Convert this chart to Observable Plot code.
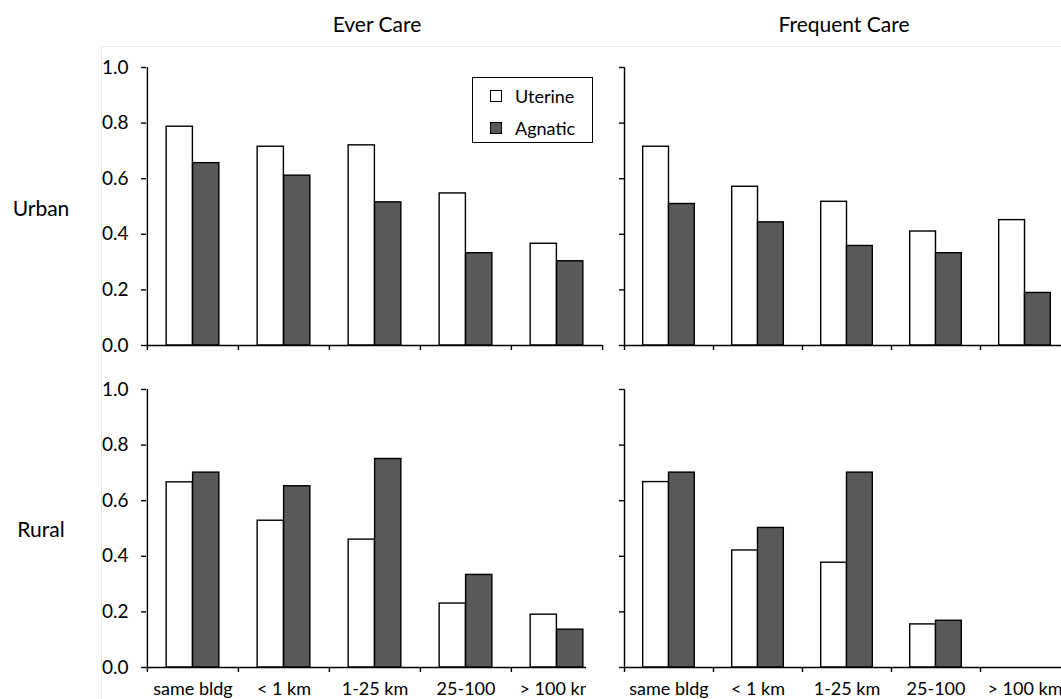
<!DOCTYPE html>
<html><head><meta charset="utf-8">
<script src="https://cdn.jsdelivr.net/npm/d3@7"></script>
<script src="https://cdn.jsdelivr.net/npm/@observablehq/plot@0.6"></script>
<style>
html,body{margin:0;padding:0;background:#fff;overflow:hidden}
#chart{position:relative;width:1061px;height:699px;overflow:hidden;font-family:Lato,sans-serif;color:#000;background:#fff}
.ctr{position:absolute;transform:translate(-50%,-50%);white-space:nowrap;font-size:21px;line-height:1}
#frameLines{position:absolute;left:101px;top:46px;width:1000px;height:700px;border-top:1px solid #e8e8e8;border-left:1px solid #e8e8e8}
#legend{position:absolute;left:472px;top:77px;width:119px;height:64px;border:1.3px solid #000;background:#fff;font-size:18px}
#legend .item{position:absolute;left:17px;display:flex;align-items:center;height:20px}
#legend .sw{width:10px;height:10px;border:1.3px solid #000;margin-right:13px}
</style></head><body><div id="chart"><div id="frameLines"></div></div>
<script>
const categories = ["same bldg", "< 1 km", "1-25 km", "25-100", "> 100 km"];
const series = ["Uterine", "Agnatic"];
const measures = ["Ever Care", "Frequent Care"];
const areas = ["Urban", "Rural"];
const yTicks = [0, 0.2, 0.4, 0.6, 0.8, 1.0];

const everUrbanUterine = [0.787, 0.715, 0.720, 0.547, 0.366];
const everUrbanAgnatic = [0.656, 0.611, 0.515, 0.332, 0.303];
const freqUrbanUterine = [0.715, 0.571, 0.517, 0.410, 0.451];
const freqUrbanAgnatic = [0.509, 0.443, 0.358, 0.332, 0.189];
const everRuralUterine = [0.666, 0.528, 0.460, 0.230, 0.190];
const everRuralAgnatic = [0.701, 0.652, 0.750, 0.333, 0.136];
const freqRuralUterine = [0.667, 0.421, 0.377, 0.155, 0];
const freqRuralAgnatic = [0.701, 0.502, 0.701, 0.168, 0];

const seriesFill = {Uterine: "#ffffff", Agnatic: "#595959"};
const chart = document.getElementById("chart");

function panel(o) {
  const plotW = o.width - o.marginLeft - o.marginRight;
  const plotH = o.height - o.marginTop - o.marginBottom;
  const bw = plotW / categories.length;
  const barW = bw * 0.29;
  const inset = (bw - barW) / 2;
  const tickLen = 5 / plotH;
  const rows = categories.flatMap((c, i) => [
    {cat: c, s: series[0], v: o.uterine[i]},
    {cat: c, s: series[1], v: o.agnatic[i]}
  ]);
  const marks = [
    Plot.barY(rows.filter(d => d.s === "Uterine"), {x: "cat", y: "v", fill: seriesFill.Uterine, stroke: "#000", strokeWidth: 1.4, insetLeft: inset, insetRight: inset, dx: -barW / 2}),
    Plot.barY(rows.filter(d => d.s === "Agnatic"), {x: "cat", y: "v", fill: seriesFill.Agnatic, stroke: "#000", strokeWidth: 1.4, insetLeft: inset, insetRight: inset, dx: barW / 2}),
    Plot.ruleY([0], {stroke: "#000", strokeWidth: 1.4}),
    Plot.ruleX([categories[0]], {x: d => d, y1: 0, y2: 1, dx: -bw / 2, stroke: "#000", strokeWidth: 1.4}),
    Plot.ruleX(categories, {x: d => d, y1: 0, y2: -tickLen, dx: -bw / 2, stroke: "#000", strokeWidth: 1.4}),
    Plot.ruleX([categories[categories.length - 1]], {x: d => d, y1: 0, y2: -tickLen, dx: bw / 2, stroke: "#000", strokeWidth: 1.4}),
    Plot.axisY({ticks: yTicks, tickSize: 5, tickPadding: 13, label: null, strokeWidth: 1.4, fontSize: 19,
      tickFormat: o.showY ? (d => d.toFixed(1)) : (() => "")})
  ];
  if (o.showX) marks.push(Plot.axisX({tickSize: 0, tickPadding: 15, label: null}));
  const svg = Plot.plot({
    width: o.width, height: o.height,
    marginLeft: o.marginLeft, marginRight: o.marginRight, marginTop: o.marginTop, marginBottom: o.marginBottom,
    style: {background: o.bg, fontFamily: "Lato, sans-serif", fontSize: "18px", color: "#000", overflow: "visible"},
    x: {type: "band", domain: categories, padding: 0, label: null, axis: o.showX ? undefined : null},
    y: {domain: [0, 1], label: null},
    marks
  });
  svg.style.position = "absolute";
  svg.style.left = o.left + "px";
  svg.style.top = o.top + "px";
  chart.appendChild(svg);
}

panel({left: 90, top: 57, width: 513, height: 300, marginLeft: 56, marginRight: 1, marginTop: 10, marginBottom: 12,
  uterine: everUrbanUterine, agnatic: everUrbanAgnatic, showY: true, showX: false, bg: "transparent"});
panel({left: 606, top: 57, width: 463, height: 300, marginLeft: 18, marginRight: 0, marginTop: 10, marginBottom: 12,
  uterine: freqUrbanUterine, agnatic: freqUrbanAgnatic, showY: false, showX: false, bg: "transparent"});
panel({left: 90, top: 379, width: 513, height: 320, marginLeft: 56, marginRight: 1, marginTop: 10, marginBottom: 32,
  uterine: everRuralUterine, agnatic: everRuralAgnatic, showY: true, showX: true, bg: "transparent"});
panel({left: 586, top: 379, width: 483, height: 320, marginLeft: 38, marginRight: 0, marginTop: 10, marginBottom: 32,
  uterine: freqRuralUterine, agnatic: freqRuralAgnatic, showY: false, showX: true, bg: "#ffffff"});

function label(text, x, y) {
  const d = document.createElement("div");
  d.className = "ctr";
  d.style.left = x + "px";
  d.style.top = y + "px";
  d.textContent = text;
  chart.appendChild(d);
}
label(measures[0], 377, 23);
label(measures[1], 844, 23);
label(areas[0], 41, 207);
label(areas[1], 41, 528);

const legend = document.createElement("div");
legend.id = "legend";
series.forEach((s, i) => {
  const it = document.createElement("div");
  it.className = "item";
  it.style.top = (8 + i * 32) + "px";
  const sw = document.createElement("div");
  sw.className = "sw";
  sw.style.background = seriesFill[s];
  const t = document.createElement("span");
  t.textContent = s;
  it.appendChild(sw); it.appendChild(t);
  legend.appendChild(it);
});
chart.appendChild(legend);
</script></body></html>
